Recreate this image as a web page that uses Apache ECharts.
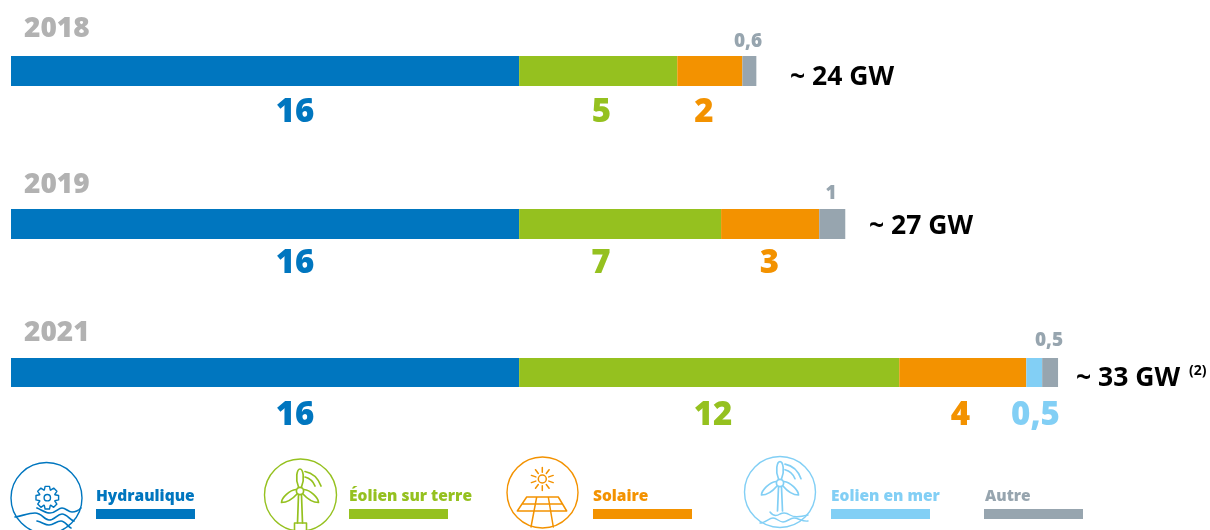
<!DOCTYPE html>
<html><head><meta charset="utf-8">
<style>html,body{margin:0;padding:0;background:#fff}#c{width:1210px;height:530px}</style>
<script src="https://cdn.jsdelivr.net/npm/echarts@6/dist/echarts.min.js"></script>
</head><body><div id="c"></div>
<script>
const years = ['2018', '2019', '2021'];
const seriesNames = ['Hydraulique', 'Éolien sur terre', 'Solaire', 'Eolien en mer', 'Autre'];
const colors = ['#0076BF', '#95C11F', '#F39200', '#82CFF5', '#97A5AF'];
// Bar lengths as drawn in the picture (GW)
const hydraulique = [16, 16, 16];
const eolienTerre = [4.98, 6.36, 11.97];
const solaire = [2.05, 3.09, 4];
const eolienMer = [0, 0, 0.5];
const autre = [0.44, 0.82, 0.5];
const values = [hydraulique, eolienTerre, solaire, eolienMer, autre];
// Printed numbers
const printedLabels = [
  ['16', '5', '2', '', '0,6'],
  ['16', '7', '3', '', '1'],
  ['16', '12', '4', '0,5', '0,5']
];
const totals = ['~ 24 GW', '~ 27 GW', '~ 33 GW'];
const noteMark = '(2)';

// Layout
const F = '"Open Sans", sans-serif';
const axisMax = 33, plotLeft = 11, plotWidth = 1048;
const barTop = [56, 209, 358], barH = [30, 30, 29];
const yearY = [29, 185, 333];
const totalPos = [[790, 77], [869, 226], [1076, 378]];
const labelPos = [
  [[295, 113], [601.5, 113], [704, 113], null, [748, 42]],
  [[295, 264], [601, 264], [769.5, 264], null, [831, 194]],
  [[295, 416], [713, 416], [960.5, 416], [1035.5, 416], [1049, 341]]
];
const legendX = [96, 349, 593, 831, 985];

const grids = [], xAxes = [], yAxes = [], series = [];
years.forEach((y, i) => {
  grids.push({ left: plotLeft, width: plotWidth, top: barTop[i], height: barH[i] });
  xAxes.push({ type: 'value', gridIndex: i, min: 0, max: axisMax, show: false });
  yAxes.push({ type: 'category', gridIndex: i, data: [y], show: false });
  values.forEach((v, s) => {
    if (!v[i]) return;
    series.push({
      type: 'bar', name: seriesNames[s], xAxisIndex: i, yAxisIndex: i, stack: 'y' + i,
      barWidth: '100%', data: [v[i]], itemStyle: { color: colors[s] }, silent: true, animation: false
    });
  });
});
// overlay grid for the printed numbers, sharing the same horizontal scale
grids.push({ left: plotLeft, width: plotWidth, top: 0, height: 530 });
xAxes.push({ type: 'value', gridIndex: 3, min: 0, max: axisMax, show: false });
yAxes.push({ type: 'value', gridIndex: 3, min: 0, max: 530, inverse: true, show: false });
const scale = axisMax / plotWidth;
const labelData = [];
printedLabels.forEach((row, i) => row.forEach((t, s) => {
  if (!t) return;
  const small = s === 4;
  labelData.push({
    value: [(labelPos[i][s][0] - plotLeft) * scale, labelPos[i][s][1]],
    label: {
      show: true, position: 'inside', formatter: t, color: colors[s], opacity: 1,
      fontFamily: F, fontWeight: 800, fontSize: small ? 19 : 33
    }
  });
}));
series.push({ type: 'scatter', xAxisIndex: 3, yAxisIndex: 3, symbolSize: 1, itemStyle: { color: 'transparent', opacity: 1 }, data: labelData, silent: true, animation: false });

// --- icons ---
const stroke = (c, w) => ({ stroke: c, fill: 'none', lineWidth: w, lineCap: 'round', lineJoin: 'round' });
let shapeCount = 0;
const P = (d, c, w) => {
  const name = 'iconPath' + (shapeCount++);
  echarts.graphic.registerShape(name, echarts.graphic.extendPath(d, {}));
  return { type: name, silent: true, shape: {}, style: stroke(c, w) };
};
const circle = (cx, cy, r, c, w) => ({ type: 'circle', silent: true, shape: { cx, cy, r }, style: stroke(c, w) });

function gearPath(cx, cy, R, r, n) {
  let d = '';
  for (let k = 0; k < n; k++) {
    const a = k * 2 * Math.PI / n, w = Math.PI / n;
    const pts = [[r, a - w * 0.95], [R, a - w * 0.5], [R, a + w * 0.5], [r, a + w * 0.95]];
    pts.forEach((p, j) => {
      const x = cx + p[0] * Math.cos(p[1]), y = cy + p[0] * Math.sin(p[1]);
      d += (k === 0 && j === 0 ? 'M' : 'L') + x.toFixed(1) + ' ' + y.toFixed(1);
    });
  }
  return d + 'Z';
}
function rays(cx, cy, r1, r2, n) {
  let d = '';
  for (let k = 0; k < n; k++) {
    const a = -Math.PI / 2 + k * 2 * Math.PI / n;
    d += 'M' + (cx + r1 * Math.cos(a)).toFixed(1) + ' ' + (cy + r1 * Math.sin(a)).toFixed(1) +
         'L' + (cx + r2 * Math.cos(a)).toFixed(1) + ' ' + (cy + r2 * Math.sin(a)).toFixed(1);
  }
  return d;
}
function turbine(hx, hy, topY, tipDX, tipDY, towerY, c) {
  const up = hy - topY;
  const blades =
    `M${hx - 1.5} ${hy - 4}C${hx - 5} ${hy - up * 0.55} ${hx - 3} ${topY} ${hx} ${topY}C${hx + 3} ${topY} ${hx + 5} ${hy - up * 0.55} ${hx + 1.5} ${hy - 4}` +
    `M${hx - 4} ${hy - 1.5}C${hx - tipDX * 0.55} ${hy - 1} ${hx - tipDX} ${hy + tipDY * 0.6} ${hx - tipDX} ${hy + tipDY}C${hx - tipDX * 0.7} ${hy + tipDY} ${hx - 8} ${hy + tipDY * 0.75} ${hx - 3} ${hy + 3}` +
    `M${hx + 4} ${hy - 1.5}C${hx + tipDX * 0.55} ${hy - 1} ${hx + tipDX} ${hy + tipDY * 0.6} ${hx + tipDX} ${hy + tipDY}C${hx + tipDX * 0.7} ${hy + tipDY} ${hx + 8} ${hy + tipDY * 0.75} ${hx + 3} ${hy + 3}`;
  const tower = `M${hx - 1.5} ${hy + 4}L${hx - 2.5} ${towerY}M${hx + 1.5} ${hy + 4}L${hx + 2.5} ${towerY}`;
  const arcs = `M${hx + 5} ${topY + 2.5}C${hx + 13} ${topY + 4} ${hx + 18} ${topY + 9} ${hx + 21} ${topY + 17}M${hx + 5} ${topY + 8}C${hx + 9} ${topY + 9} ${hx + 13} ${topY + 12} ${hx + 15} ${topY + 17}`;
  return [P(blades, c, 1.7), P(tower, c, 1.7), P(arcs, c, 1.7), circle(hx, hy, 3.6, c, 1.7)];
}

const icons = [];
// hydro
const cH = colors[0];
icons.push(circle(46.5, 498, 35.5, cH, 1.4));
icons.push(P(gearPath(47.3, 497.7, 11.5, 8.2, 8), cH, 1.4));
icons.push(circle(47.3, 497.7, 3.2, cH, 1.4));
icons.push(P('M37 508C42 510 45 513 50 513C56 513 58 508 62 508C66 508 68 512 72 512C76 512 79 510 81 508', cH, 1.7));
icons.push(P('M15 517C22 516 28 513 35 513C42 513 44 520 49 520C55 520 57 514 62 514C67 514 70 520 74 521', cH, 1.7));
icons.push(P('M37 521C42 522 45 525 49 525C54 525 56 521 61 521C65 521 68 527 71 528', cH, 1.7));
// onshore wind
const cG = colors[1];
icons.push(circle(300.5, 495, 36, cG, 1.4));
icons.push(...turbine(300, 491, 469, 18.5, 11.5, 523, cG));
icons.push(P('M294.5 531L294.5 523L306.5 523L306.5 531', cG, 1.6));
// solar
const cO = colors[2];
icons.push(circle(542.5, 492.5, 35.5, cO, 1.4));
icons.push(circle(542.3, 479, 4, cO, 1.5));
icons.push(P(rays(542.3, 479, 6.8, 11.5, 10), cO, 1.5));
icons.push(P('M526.7 497L558.3 497L566.7 511L517.3 511ZM522 504L562.5 504M536.7 497L531 527M548.3 497L553.3 527', cO, 1.5));
// offshore
const cL = colors[3];
icons.push(circle(780, 492, 35.5, cL, 1.4));
icons.push(...turbine(780, 483, 461.7, 18.5, 12, 511, cL));
icons.push(P('M770 512C773 516 777 516 780 514C784 512 787 513 790 515C793 517 800 517 808 515', cL, 1.5));
icons.push(P('M760 523C765 523 769 518 773 518C777 518 779 522 783 522C787 522 790 518 794 518C798 518 803 522 808 521', cL, 1.5));

// --- texts ---
const texts = [];
years.forEach((y, i) => {
  texts.push({ type: 'text', silent: true, x: 24, y: yearY[i], style: { text: y, fill: '#B2B2B2', font: `800 28px ${F}`, textVerticalAlign: 'middle' } });
  texts.push({ type: 'text', silent: true, x: totalPos[i][0], y: totalPos[i][1], style: { text: totals[i], fill: '#000', font: `700 26.5px ${F}`, textVerticalAlign: 'middle' } });
});
texts.push({ type: 'text', silent: true, x: 1189, y: 371, style: { text: noteMark, fill: '#000', font: `700 14px ${F}`, textVerticalAlign: 'middle' } });
seriesNames.forEach((n, s) => {
  texts.push({ type: 'text', silent: true, x: legendX[s], y: 496.5, style: { text: n, fill: colors[s], font: `800 15.5px ${F}`, textVerticalAlign: 'middle' } });
  texts.push({ type: 'rect', silent: true, shape: { x: legendX[s] - (s === 4 ? 1 : 0), y: 509, width: 99, height: 10 }, style: { fill: colors[s] } });
});

const chart = echarts.init(document.getElementById('c'), null, { renderer: 'canvas' });
chart.setOption({
  animation: false, backgroundColor: '#fff',
  grid: grids, xAxis: xAxes, yAxis: yAxes, series,
  graphic: { elements: icons.concat(texts) }
});
</script></body></html>
